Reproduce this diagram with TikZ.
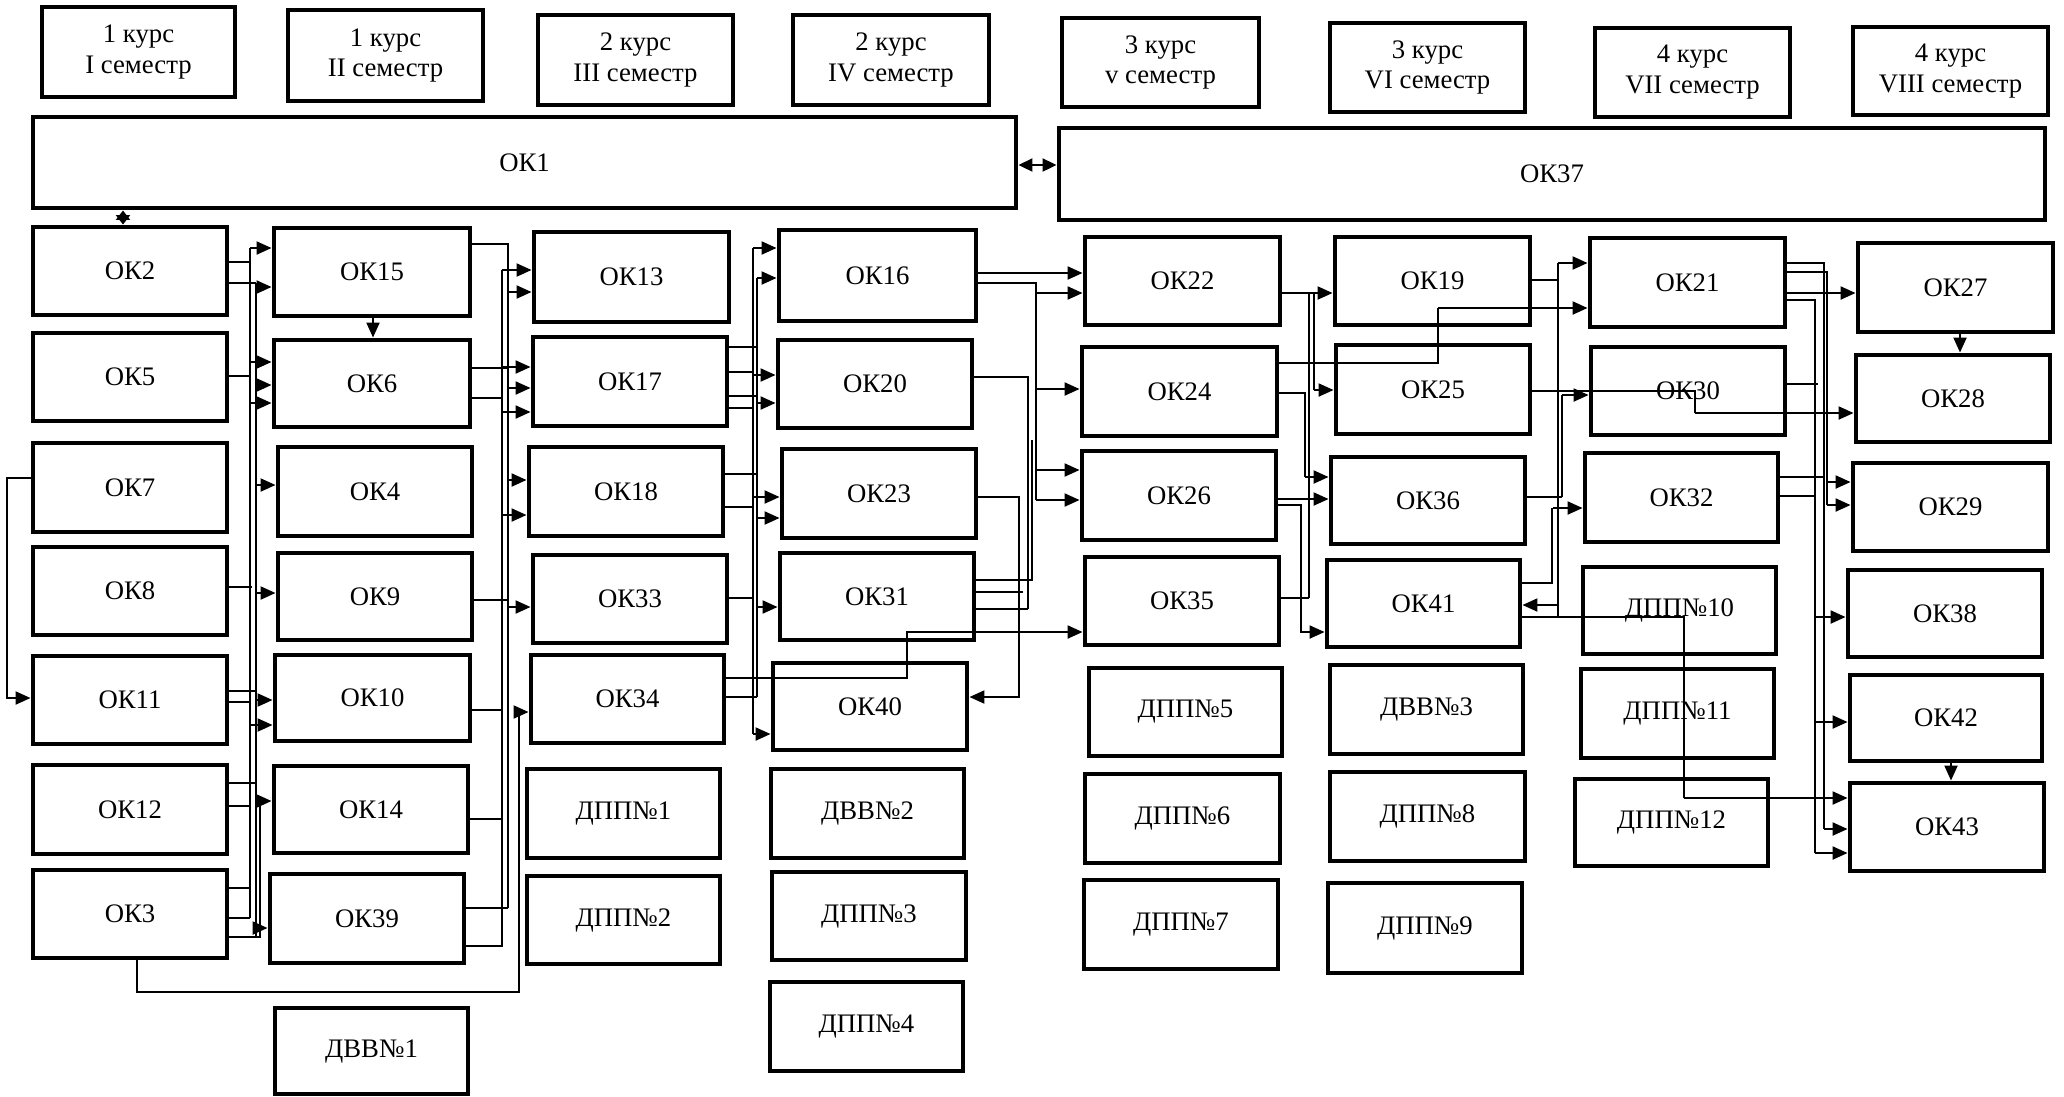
\documentclass[tikz,border=0pt]{standalone}
\usepackage{fontspec}
\setmainfont{Liberation Serif}
\usetikzlibrary{arrows.meta}
\tikzset{
  bx/.style={draw, line width=1.4pt, inner sep=0pt, align=center, font=\fontsize{7.6}{8.8}\selectfont},
  ln/.style={line width=0.6pt},
  ar/.style={ln, -{Triangle[length=1.5mm,width=1.3mm]}},
  dar/.style={ln, {Triangle[length=0.95mm,width=1.4mm]}-{Triangle[length=0.95mm,width=1.4mm]}},
  dar2/.style={ln, {Triangle[length=1.4mm,width=1.3mm]}-{Triangle[length=1.4mm,width=1.3mm]}},
}
\newcommand\bx[6]{\node[bx, minimum width={(#4-#2)*0.01cm}, minimum height={(#5-#3)*0.01cm}] (#1) at ({(#2+#4)/2},{(#3+#5)/2}) {#6};}
\begin{document}
\begin{tikzpicture}[x=0.01cm,y=-0.01cm]
\useasboundingbox (0,0) rectangle (2064,1096);
\fill[white] (0,0) rectangle (2064,1096);
% headers
\bx{H1}{42}{7}{235}{97}{1 курс\\I семестр}
\bx{H2}{288}{10}{483}{101}{1 курс\\II семестр}
\bx{H3}{538}{15}{733}{105}{2 курс\\III семестр}
\bx{H4}{793}{15}{989}{105}{2 курс\\IV семестр}
\bx{H5}{1062}{18}{1259}{107}{3 курс\\v семестр}
\bx{H6}{1330}{23}{1525}{112}{3 курс\\VI семестр}
\bx{H7}{1595}{28}{1790}{117}{4 курс\\VII семестр}
\bx{H8}{1853}{27}{2048}{115}{4 курс\\VIII семестр}
% long boxes
\bx{OK1}{33}{117}{1016}{208}{ОК1}
\bx{OK37}{1059}{128}{2045}{220}{ОК37}
% column 1
\bx{OK2}{33}{227}{227}{315}{ОК2}
\bx{OK5}{33}{333}{227}{421}{ОК5}
\bx{OK7}{33}{443}{227}{532}{ОК7}
\bx{OK8}{33}{547}{227}{635}{ОК8}
\bx{OK11}{33}{656}{227}{744}{ОК11}
\bx{OK12}{33}{765}{227}{854}{ОК12}
\bx{OK3}{33}{870}{227}{958}{ОК3}
% column 2
\bx{OK15}{274}{228}{470}{316}{ОК15}
\bx{OK6}{274}{340}{470}{427}{ОК6}
\bx{OK4}{278}{447}{472}{536}{ОК4}
\bx{OK9}{278}{553}{472}{640}{ОК9}
\bx{OK10}{275}{655}{470}{741}{ОК10}
\bx{OK14}{274}{766}{468}{853}{ОК14}
\bx{OK39}{270}{874}{464}{963}{ОК39}
\bx{V1}{275}{1008}{468}{1094}{ДВВ№1}
% column 3
\bx{OK13}{534}{232}{729}{322}{ОК13}
\bx{OK17}{533}{337}{727}{426}{ОК17}
\bx{OK18}{529}{447}{723}{536}{ОК18}
\bx{OK33}{533}{555}{727}{643}{ОК33}
\bx{OK34}{531}{655}{724}{743}{ОК34}
\bx{D1}{527}{769}{720}{858}{ДПП№1}
\bx{D2}{527}{876}{720}{964}{ДПП№2}
% column 4
\bx{OK16}{779}{230}{976}{321}{ОК16}
\bx{OK20}{778}{340}{972}{428}{ОК20}
\bx{OK23}{782}{449}{976}{538}{ОК23}
\bx{OK31}{780}{553}{974}{640}{ОК31}
\bx{OK40}{773}{663}{967}{750}{ОК40}
\bx{V2}{771}{769}{964}{858}{ДВВ№2}
\bx{D3}{772}{872}{966}{960}{ДПП№3}
\bx{D4}{770}{982}{963}{1071}{ДПП№4}
% column 5
\bx{OK22}{1085}{237}{1280}{325}{ОК22}
\bx{OK24}{1082}{347}{1277}{436}{ОК24}
\bx{OK26}{1082}{451}{1276}{540}{ОК26}
\bx{OK35}{1085}{557}{1279}{645}{ОК35}
\bx{D5}{1089}{668}{1282}{756}{ДПП№5}
\bx{D6}{1085}{774}{1280}{863}{ДПП№6}
\bx{D7}{1084}{880}{1278}{969}{ДПП№7}
% column 6
\bx{OK19}{1335}{237}{1530}{325}{ОК19}
\bx{OK25}{1336}{345}{1530}{434}{ОК25}
\bx{OK36}{1331}{457}{1525}{544}{ОК36}
\bx{OK41}{1327}{560}{1520}{647}{ОК41}
\bx{V3}{1330}{665}{1523}{754}{ДВВ№3}
\bx{D8}{1330}{772}{1525}{861}{ДПП№8}
\bx{D9}{1328}{883}{1522}{973}{ДПП№9}
% column 7
\bx{OK21}{1590}{238}{1785}{327}{ОК21}
\bx{OK30}{1591}{347}{1785}{435}{ОК30}
\bx{OK32}{1585}{453}{1778}{542}{ОК32}
\bx{D10}{1583}{567}{1776}{654}{ДПП№10}
\bx{D11}{1581}{669}{1774}{758}{ДПП№11}
\bx{D12}{1575}{779}{1768}{866}{ДПП№12}
% column 8
\bx{OK27}{1858}{243}{2053}{332}{ОК27}
\bx{OK28}{1856}{355}{2050}{442}{ОК28}
\bx{OK29}{1853}{463}{2048}{551}{ОК29}
\bx{OK38}{1848}{570}{2042}{657}{ОК38}
\bx{OK42}{1850}{675}{2042}{761}{ОК42}
\bx{OK43}{1850}{783}{2044}{871}{ОК43}

% ---- connectors ----
\draw[dar] (OK1.south-|123,0) -- (OK2.north-|123,0);
\draw[dar2] (OK1.east|-0,165) -- (OK37.west|-0,165);

% column 1 -> column 2
\draw[ln] (OK2.east|-0,262) -- (250,262);
\draw[ln] (OK2.east|-0,283) -- (256,283);
\draw[ln] (OK5.east|-0,376) -- (250,376);
\draw[ln] (OK8.east|-0,587) -- (252,587);
\draw[ln] (OK11.east|-0,691) -- (256,691);
\draw[ln] (OK11.east|-0,702) -- (250,702);
\draw[ln] (OK12.east|-0,783) -- (256,783);
\draw[ln] (OK12.east|-0,806) -- (250,806);
\draw[ln] (OK3.east|-0,888) -- (250,888);
\draw[ln] (OK3.east|-0,918) -- (250,918);
\draw[ln] (OK3.east|-0,937) -- (260,937) -- (260,800);
\draw[ln] (250,248) -- (250,918);
\draw[ln] (256,283) -- (256,937);
\draw[ar] (250,248) -- (OK15.west|-0,248);
\draw[ar] (256,287) -- (OK15.west|-0,287);
\draw[ar] (250,362) -- (OK6.west|-0,362);
\draw[ar] (256,385) -- (OK6.west|-0,385);
\draw[ar] (250,403) -- (OK6.west|-0,403);
\draw[ar] (256,485) -- (OK4.west|-0,485);
\draw[ar] (256,593) -- (OK9.west|-0,593);
\draw[ar] (256,700) -- (OK10.west|-0,700);
\draw[ar] (250,725) -- (OK10.west|-0,725);
\draw[ar] (260,801) -- (OK14.west|-0,801);
\draw[ar] (256,928) -- (OK39.west|-0,928);
\draw[ar] (OK7.west|-0,478) -- (7,478) -- (7,698) -- (OK11.west|-0,698);
\draw[ar] (OK3.south-|137,0) -- (137,992) -- (519,992) -- (519,712) -- (OK34.west|-0,712);
\draw[ar] (OK15.south-|373,0) -- (OK6.north-|373,0);

% column 2 -> column 3
\draw[ln] (OK15.east|-0,244) -- (508,244) -- (508,908);
\draw[ln] (OK6.east|-0,368) -- (508,368);
\draw[ln] (OK6.east|-0,398) -- (502,398);
\draw[ln] (OK9.east|-0,600) -- (508,600);
\draw[ln] (OK10.east|-0,710) -- (502,710);
\draw[ln] (OK14.east|-0,819) -- (502,819);
\draw[ln] (OK39.east|-0,908) -- (508,908);
\draw[ln] (OK39.east|-0,946) -- (502,946) -- (502,270);
\draw[ar] (502,270) -- (OK13.west|-0,270);
\draw[ar] (508,292) -- (OK13.west|-0,292);
\draw[ar] (502,367) -- (OK17.west|-0,367);
\draw[ar] (508,388) -- (OK17.west|-0,388);
\draw[ar] (502,412) -- (OK17.west|-0,412);
\draw[ar] (508,480) -- (OK18.west|-0,480);
\draw[ar] (502,515) -- (OK18.west|-0,515);
\draw[ar] (508,607) -- (OK33.west|-0,607);

% column 3 -> column 4
\draw[ln] (OK17.east|-0,347) -- (757,347);
\draw[ln] (OK17.east|-0,372) -- (753,372);
\draw[ln] (OK17.east|-0,396) -- (757,396);
\draw[ln] (OK17.east|-0,408) -- (753,408);
\draw[ln] (OK18.east|-0,474) -- (757,474);
\draw[ln] (OK18.east|-0,507) -- (753,507);
\draw[ln] (OK33.east|-0,598) -- (753,598);
\draw[ln] (OK34.east|-0,697) -- (757,697);
\draw[ln] (753,248) -- (753,734);
\draw[ln] (757,278) -- (757,697);
\draw[ar] (753,248) -- (OK16.west|-0,248);
\draw[ar] (757,278) -- (OK16.west|-0,278);
\draw[ar] (753,375) -- (OK20.west|-0,375);
\draw[ar] (757,403) -- (OK20.west|-0,403);
\draw[ar] (753,497) -- (OK23.west|-0,497);
\draw[ar] (757,518) -- (OK23.west|-0,518);
\draw[ar] (757,607) -- (OK31.west|-0,607);
\draw[ar] (753,734) -- (OK40.west|-0,734);
\draw[ar] (OK34.east|-0,678) -- (907,678) -- (907,632) -- (OK35.west|-0,632);
\draw[ar] (OK23.east|-0,497) -- (1019,497) -- (1019,697) -- (OK40.east|-0,697);

% column 4 -> column 5
\draw[ar] (OK16.east|-0,273) -- (OK22.west|-0,273);
\draw[ln] (OK16.east|-0,283) -- (1036,283) -- (1036,500);
\draw[ar] (1036,293) -- (OK22.west|-0,293);
\draw[ln] (OK20.east|-0,377) -- (1028,377) -- (1028,609);
\draw[ar] (1036,389) -- (OK24.west|-0,389);
\draw[ar] (1036,470) -- (OK26.west|-0,470);
\draw[ar] (1036,500) -- (OK26.west|-0,500);
\draw[ln] (OK31.east|-0,580) -- (1032,580) -- (1032,440);
\draw[ln] (OK31.east|-0,592) -- (1023,592);
\draw[ln] (OK31.east|-0,609) -- (1028,609);

% column 5 -> column 6
\draw[ar] (OK22.east|-0,293) -- (OK19.west|-0,293);
\draw[ln] (1309,293) -- (1309,598);
\draw[ln] (1314,293) -- (1314,390);
\draw[ar] (1314,390) -- (OK25.west|-0,390);
\draw[ln] (OK24.east|-0,363) -- (1438,363) -- (1438,308);
\draw[ar] (1438,308) -- (OK21.west|-0,308);
\draw[ln] (OK24.east|-0,393) -- (1305,393) -- (1305,477);
\draw[ar] (1305,477) -- (OK36.west|-0,477);
\draw[ar] (OK26.east|-0,499) -- (OK36.west|-0,499);
\draw[ar] (OK26.east|-0,505) -- (1301,505) -- (1301,632) -- (OK41.west|-0,632);
\draw[ln] (OK35.east|-0,598) -- (1309,598);

% column 6 -> column 7
\draw[ln] (OK19.east|-0,280) -- (1558,280);
\draw[ln] (1558,263) -- (1558,617);
\draw[ar] (1558,263) -- (OK21.west|-0,263);
\draw[ln] (OK25.east|-0,391) -- (1695,391) -- (1695,413);
\draw[ar] (1695,413) -- (OK28.west|-0,413);
\draw[ln] (1562,395) -- (1562,497);
\draw[ar] (1562,395) -- (OK30.west|-0,395);
\draw[ln] (OK36.east|-0,497) -- (1562,497);
\draw[ar] (1553,508) -- (OK32.west|-0,508);
\draw[ln] (OK41.east|-0,583) -- (1552,583) -- (1552,508);
\draw[ar] (1558,605) -- (OK41.east|-0,605);
\draw[ln] (OK41.east|-0,617) -- (1684,617) -- (1684,798);
\draw[ar] (1684,798) -- (OK43.west|-0,798);

% column 7 -> column 8
\draw[ln] (OK21.east|-0,263) -- (1824,263) -- (1824,829);
\draw[ln] (OK21.east|-0,272) -- (1827,272) -- (1827,505);
\draw[ar] (OK21.east|-0,293) -- (OK27.west|-0,293);
\draw[ln] (OK21.east|-0,300) -- (1815,300) -- (1815,853);
\draw[ln] (OK30.east|-0,384) -- (1818,384);
\draw[ln] (OK32.east|-0,477) -- (1825,477);
\draw[ln] (OK32.east|-0,496) -- (1815,496);
\draw[ar] (1827,482) -- (OK29.west|-0,482);
\draw[ar] (1827,505) -- (OK29.west|-0,505);
\draw[ar] (1815,617) -- (OK38.west|-0,617);
\draw[ar] (1815,722) -- (OK42.west|-0,722);
\draw[ar] (1824,829) -- (OK43.west|-0,829);
\draw[ar] (1815,853) -- (OK43.west|-0,853);
\draw[ar] (OK27.south-|1960,0) -- (OK28.north-|1960,0);
\draw[ar] (OK42.south-|1951,0) -- (OK43.north-|1951,0);
\end{tikzpicture}
\end{document}
